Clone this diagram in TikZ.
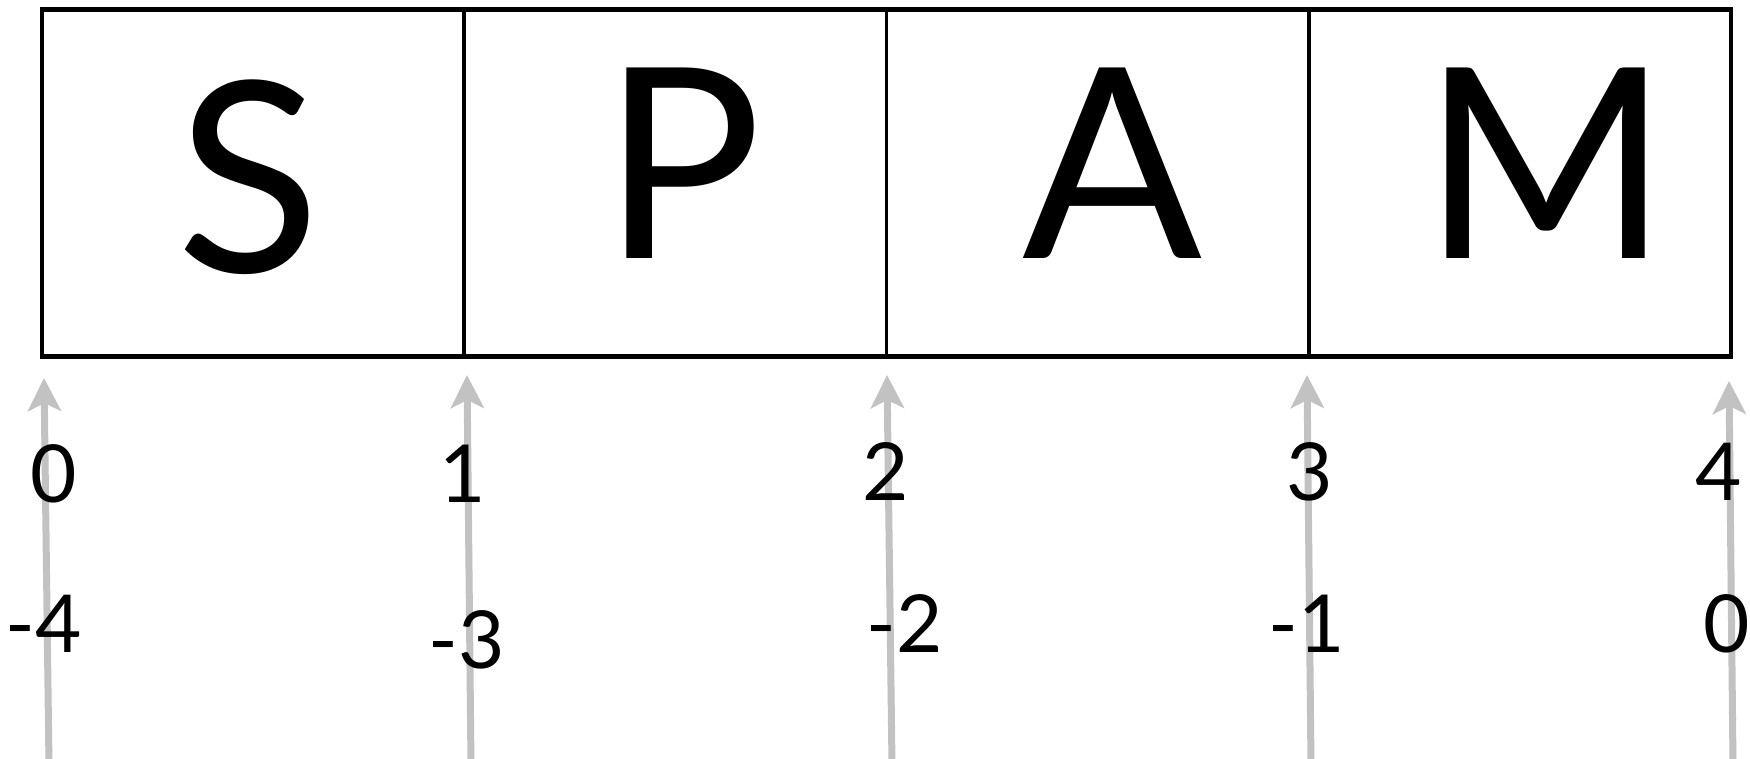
\documentclass[tikz,border=0pt]{standalone}
\usepackage{fontspec}
\setmainfont{Lato}
\usetikzlibrary{arrows.meta}

\begin{document}
\begin{tikzpicture}[x=0.5pt, y=-0.5pt,
    letter/.style={inner sep=0pt, anchor=base, font=\fontsize{133}{133}\selectfont},
    idx/.style={inner sep=0pt, anchor=base, font=\fontsize{40}{40}\selectfont},
    pointer/.style={draw=black!24, line width=3.5pt,
        -{Stealth[length=16.5pt, width=16.5pt, inset=4pt]}}]

    \useasboundingbox (0,0) rectangle (1750,759);

    % pointers between the cells
    \foreach \i/\xt/\yt/\xb in {0/44/378/49, 1/467/375/471, 2/887/375/892,
                                3/1307/375/1311, 4/1729/381/1733} {
        \coordinate (tip\i) at (\xt,\yt);
        \coordinate (foot\i) at (\xb,765);
        \draw[pointer] (foot\i) -- (tip\i);
    }

    % the string
    \draw[line width=2.3pt] (42,9.5) rectangle (1731,356.5);
    \foreach \x in {464.25, 886.5, 1308.75}
        \draw[line width=1.9pt] (\x,9.5) -- (\x,356.5);

    \node[letter] (s) at (249,272) {S};
    \node[letter] (p) at (682,258) {P};
    \node[letter] (a) at (1113,258) {A};
    \node[letter] (m) at (1546,258) {M};

    % positive indices
    \node[idx] (pos0) at (54,502) {0};
    \node[idx] (pos1) at (463,502) {1};
    \node[idx] (pos2) at (886,500) {2};
    \node[idx] (pos3) at (1310,500) {3};
    \node[idx] (pos4) at (1719,500) {4};

    % negative indices
    \node[idx] (neg4) at (44,652) {-4};
    \node[idx] (neg3) at (467,668) {-3};
    \node[idx] (neg2) at (905,652) {-2};
    \node[idx] (neg1) at (1307,652) {-1};
    \node[idx] (neg0) at (1727,652) {0};

\end{tikzpicture}
\end{document}
